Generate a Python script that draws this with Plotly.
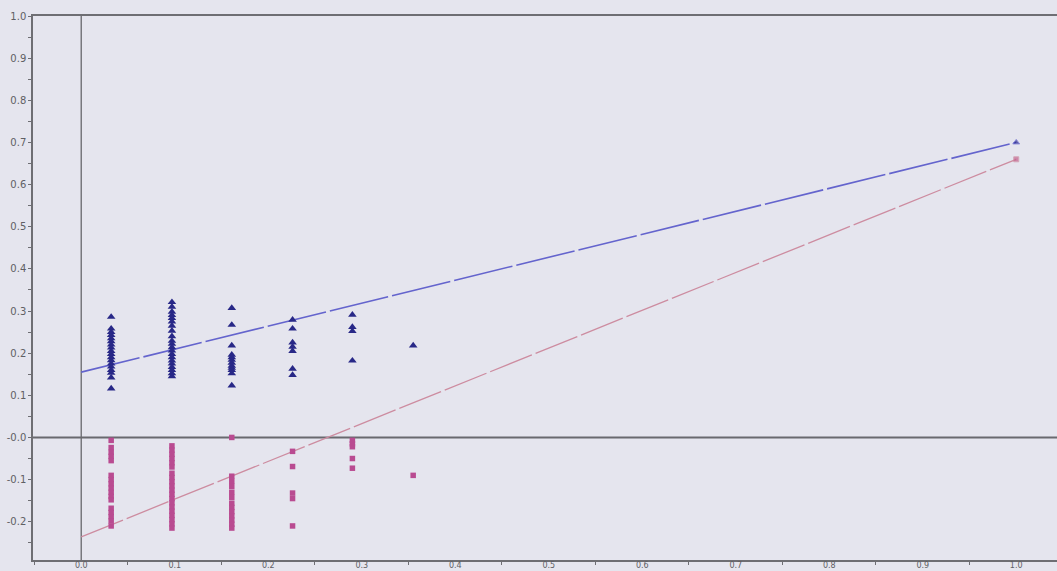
import plotly.graph_objects as go

# Group positions along x
col_x = [0.032, 0.097, 0.161, 0.226, 0.290, 0.355]

# Positive-series values (triangles) per group
blue_cols = [
    [0.286, 0.258, 0.250, 0.243, 0.235, 0.228, 0.220, 0.213, 0.205, 0.198,
     0.190, 0.183, 0.175, 0.168, 0.160, 0.153, 0.142, 0.116],
    [0.321, 0.310, 0.298, 0.290, 0.283, 0.275, 0.265, 0.253, 0.240, 0.229,
     0.222, 0.214, 0.206, 0.198, 0.190, 0.182, 0.175, 0.167, 0.160, 0.152, 0.145],
    [0.307, 0.267, 0.218, 0.196, 0.190, 0.184, 0.177, 0.170, 0.165, 0.160,
     0.152, 0.123],
    [0.279, 0.258, 0.225, 0.215, 0.205, 0.163, 0.148],
    [0.291, 0.262, 0.252, 0.182],
    [0.218],
]

# Negative-series values (squares) per group
pink_cols = [
    [-0.007, -0.024, -0.035, -0.045, -0.055, -0.090, -0.100, -0.110, -0.120,
     -0.130, -0.140, -0.148, -0.168, -0.178, -0.188, -0.198, -0.210],
    [-0.020, -0.030, -0.040, -0.050, -0.060, -0.070, -0.085, -0.095, -0.105,
     -0.115, -0.125, -0.135, -0.145, -0.155, -0.165, -0.175, -0.185, -0.195,
     -0.205, -0.215],
    [0.000, -0.092, -0.104, -0.116, -0.130, -0.142, -0.156, -0.166, -0.176,
     -0.186, -0.196, -0.206, -0.215],
    [-0.033, -0.069, -0.132, -0.145, -0.210],
    [-0.007, -0.015, -0.022, -0.050, -0.073],
    [-0.090],
]

# Fitted lines
fit_x = [0.0, 1.0]
blue_fit_y = [0.155, 0.700]
pink_fit_y = [-0.236, 0.660]

# Axis tick labels
y_tickvals = [1.0, 0.9, 0.8, 0.7, 0.6, 0.5, 0.4, 0.3, 0.2, 0.1, 0.0, -0.1, -0.2]
y_ticktext = ["1.0", "0.9", "0.8", "0.7", "0.6", "0.5", "0.4", "0.3", "0.2",
              "0.1", "-0.0", "-0.1", "-0.2"]
x_tickvals = [0.0, 0.1, 0.2, 0.3, 0.4, 0.5, 0.6, 0.7, 0.8, 0.9, 1.0]
x_ticktext = ["0.0", "0.1", "0.2", "0.3", "0.4", "0.5", "0.6", "0.7", "0.8",
              "0.9", "1.0"]

bx, by = [], []
for x, vals in zip(col_x, blue_cols):
    bx += [x] * len(vals)
    by += vals
px, py = [], []
for x, vals in zip(col_x, pink_cols):
    px += [x] * len(vals)
    py += vals

BG = "rgb(229,229,238)"
AXIS = "rgb(110,110,115)"

fig = go.Figure()

# reference lines at x=0 and y=0
fig.add_shape(type="line", xref="x", yref="paper", x0=0, x1=0, y0=0, y1=1,
              line=dict(color="rgb(120,120,125)", width=1.5), layer="below")
fig.add_shape(type="line", xref="paper", yref="y", x0=0, x1=1, y0=0, y1=0,
              line=dict(color="rgb(105,105,110)", width=2), layer="below")

fig.add_trace(go.Scatter(
    x=fit_x, y=blue_fit_y, mode="lines+markers",
    line=dict(color="rgb(100,100,205)", width=1.6, dash="60px,4px"),
    marker=dict(size=[0, 6], color="rgb(40,40,140)", symbol="triangle-up"),
    showlegend=False, hoverinfo="skip"))
fig.add_trace(go.Scatter(
    x=fit_x, y=pink_fit_y, mode="lines+markers",
    line=dict(color="rgb(205,140,160)", width=1.3, dash="45px,4px"),
    marker=dict(size=[0, 5], color="rgb(195,95,140)", symbol="square"),
    showlegend=False, hoverinfo="skip"))

fig.add_trace(go.Scatter(
    x=bx, y=by, mode="markers",
    marker=dict(symbol="triangle-up", size=7.5, color="rgb(40,40,135)"),
    showlegend=False))
fig.add_trace(go.Scatter(
    x=px, y=py, mode="markers",
    marker=dict(symbol="square", size=5.5, color="rgb(185,75,145)"),
    showlegend=False))

fig.update_layout(
    width=1057, height=571,
    margin=dict(l=33, r=0, t=16, b=11, autoexpand=False),
    paper_bgcolor=BG, plot_bgcolor=BG,
    font=dict(family="DejaVu Sans", size=10, color="rgb(95,95,100)"),
    xaxis=dict(
        range=[-0.0516, 1.0436], showgrid=False, zeroline=False,
        automargin=False,
        showline=True, linecolor=AXIS, linewidth=2, mirror=True,
        tickvals=x_tickvals, ticktext=x_ticktext, ticks="", ticklen=0,
        tickfont=dict(size=8), ticklabelstandoff=-4,
        minor=dict(tick0=0.05, dtick=0.1, ticks="outside", ticklen=3,
                   tickcolor=AXIS, showgrid=False),
    ),
    yaxis=dict(
        range=[-0.2908, 1.0], showgrid=False, zeroline=False,
        automargin=False,
        showline=True, linecolor=AXIS, linewidth=1.5,
        tickvals=y_tickvals, ticktext=y_ticktext,
        ticks="outside", ticklen=3, tickcolor=AXIS,
        minor=dict(tick0=0.05, dtick=0.1, ticks="outside", ticklen=3,
                   tickcolor=AXIS, showgrid=False),
    ),
)

fig.write_html("out.html")
